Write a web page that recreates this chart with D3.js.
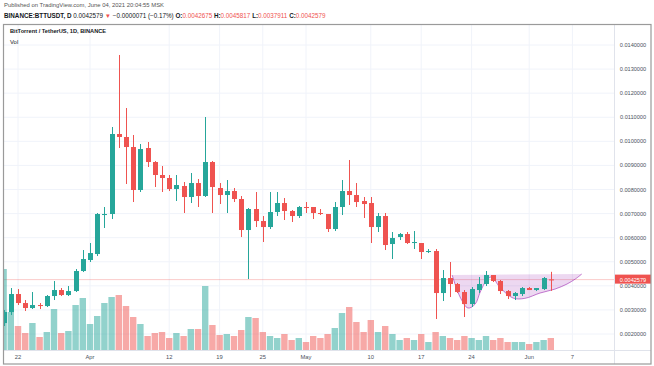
<!DOCTYPE html>
<html>
<head>
<meta charset="utf-8">
<script src="https://cdn.jsdelivr.net/npm/d3@7"></script>
<style>
  html, body { margin: 0; padding: 0; background: #fff; }
  svg { display: block; font-family: "Liberation Sans", Arial, sans-serif; }
</style>
</head>
<body>
<svg id="chart" width="654" height="366"></svg>
<script>
// daily candles, BTTUSDT, starting 2021-03-20
const startDay = '2021-03-20';
const open = [0.002455, 0.002912, 0.003660, 0.003286, 0.003078, 0.003203, 0.003161, 0.003577, 0.003826, 0.003618,
  0.003784, 0.004615, 0.005072, 0.005321, 0.006940, 0.006982, 0.010304, 0.010180, 0.009764, 0.007979,
  0.009723, 0.009141, 0.008602, 0.008477, 0.008020, 0.008145, 0.007688, 0.008269, 0.007730, 0.009141,
  0.008062, 0.007771, 0.007937, 0.007605, 0.006318, 0.007190, 0.006691, 0.006442, 0.007065, 0.007439,
  0.007107, 0.006899, 0.007273, 0.007273, 0.007024, 0.006982, 0.006359, 0.007273, 0.007937, 0.007771,
  0.007522, 0.007439, 0.006442, 0.006899, 0.005736, 0.006027, 0.006151, 0.005778, 0.005778, 0.005404,
  0.005445, 0.003701, 0.004324, 0.004075, 0.003743, 0.003244, 0.003826, 0.004075, 0.004449, 0.004200,
  0.003784, 0.003577, 0.003660, 0.003909, 0.003826, 0.003867, 0.0042675];
const high = [0.002995, 0.003909, 0.003867, 0.003411, 0.003743, 0.003286, 0.003618, 0.004200, 0.003909, 0.003992,
  0.004698, 0.005487, 0.005778, 0.007024, 0.007273, 0.010595, 0.013585, 0.011384, 0.010263, 0.009889,
  0.009972, 0.009180, 0.008975, 0.008602, 0.008602, 0.008311, 0.008685, 0.008435, 0.011010, 0.009183,
  0.008269, 0.008394, 0.008062, 0.007730, 0.007231, 0.007896, 0.006899, 0.007896, 0.007896, 0.007646,
  0.007148, 0.007314, 0.007480, 0.007273, 0.007190, 0.006982, 0.007480, 0.008394, 0.009225, 0.008269,
  0.007688, 0.007688, 0.007024, 0.007024, 0.006235, 0.006193, 0.006235, 0.006276, 0.005778, 0.005529,
  0.005529, 0.004656, 0.004989, 0.004117, 0.003826, 0.003950, 0.004366, 0.004615, 0.004449, 0.004241,
  0.003826, 0.003743, 0.003950, 0.003950, 0.003909, 0.004366, 0.0045817];
const low = [0.002331, 0.002788, 0.003203, 0.002954, 0.003037, 0.003037, 0.003120, 0.003411, 0.003577, 0.003577,
  0.003743, 0.004573, 0.004989, 0.005238, 0.006401, 0.006774, 0.009723, 0.008228, 0.007480, 0.007896,
  0.008934, 0.008103, 0.007896, 0.007937, 0.007522, 0.007024, 0.007439, 0.007273, 0.007688, 0.007024,
  0.007397, 0.007024, 0.007480, 0.006027, 0.004283, 0.006442, 0.005819, 0.006359, 0.006899, 0.006733,
  0.006650, 0.006816, 0.007024, 0.006774, 0.006940, 0.006235, 0.006276, 0.006940, 0.007356, 0.007273,
  0.006816, 0.005778, 0.006235, 0.005487, 0.005113, 0.005902, 0.005736, 0.005529, 0.005113, 0.005362,
  0.002622, 0.003369, 0.003535, 0.003701, 0.002705, 0.003120, 0.003701, 0.003992, 0.004158, 0.003660,
  0.003452, 0.003411, 0.003577, 0.003826, 0.003784, 0.003826, 0.0037911];
const close = [0.002912, 0.003660, 0.003286, 0.003078, 0.003203, 0.003161, 0.003577, 0.003826, 0.003618, 0.003784,
  0.004615, 0.005113, 0.005362, 0.006982, 0.006982, 0.010304, 0.010180, 0.009764, 0.007979, 0.009681,
  0.009141, 0.008602, 0.008477, 0.008020, 0.008186, 0.007688, 0.008269, 0.007730, 0.009141, 0.008103,
  0.007771, 0.007937, 0.007605, 0.006318, 0.007190, 0.006691, 0.006442, 0.007065, 0.007439, 0.007107,
  0.006899, 0.007273, 0.007231, 0.007024, 0.006982, 0.006359, 0.007273, 0.007937, 0.007771, 0.007480,
  0.007397, 0.006442, 0.006899, 0.005695, 0.005985, 0.006151, 0.005778, 0.005819, 0.005404, 0.005445,
  0.003701, 0.004324, 0.004075, 0.003743, 0.003244, 0.003867, 0.004075, 0.004449, 0.004200, 0.003784,
  0.003577, 0.003701, 0.003909, 0.003826, 0.003909, 0.004324, 0.0042579];
// volume (millions of BTT, approximate)
const volume = [81, 38, 24, 17, 27, 13, 18, 41, 17, 19,
  45, 52, 26, 34, 47, 53, 55, 44, 33, 26,
  14, 17, 18, 12, 17, 14, 21, 21, 64, 25,
  15, 16, 14, 20, 33, 32, 18, 14, 12, 16,
  10, 12, 8, 14, 12, 16, 22, 37, 43, 28,
  18, 30, 18, 24, 16, 10, 12, 10, 16, 8,
  18, 14, 12, 10, 14, 12, 10, 14, 10, 12,
  8, 8, 8, 6, 8, 10, 12];

const priceTicks = [0.002, 0.003, 0.004, 0.005, 0.006, 0.007, 0.008, 0.009, 0.010, 0.011, 0.012, 0.013, 0.014];
const timeTicks = ['2021-03-22', '2021-04-01', '2021-04-12', '2021-04-19', '2021-04-25', '2021-05-01',
  '2021-05-10', '2021-05-17', '2021-05-24', '2021-06-01', '2021-06-07'];
const timeLabels = ['22', 'Apr', '12', '19', '25', 'May', '10', '17', '24', 'Jun', '7'];

// cup drawing (day offset from start, price)
const cupDay = [62.3, 63.4, 64.5, 65.5, 66.2, 67.1, 67.8, 68.9, 70.75, 72.4, 74.5, 76.6, 78.25, 79.4, 80.3];
const cupPrice = [0.004448, 0.003535, 0.003078, 0.003244, 0.003743, 0.004241, 0.004365, 0.003950, 0.003493,
  0.003480, 0.003701, 0.003867, 0.004075, 0.004283, 0.004490];
const cupTop = 0.004448;

const lastPrice = 0.0042579;
const upColor = '#26a69a', downColor = '#ef5350';

const parse = d3.timeParse('%Y-%m-%d');
const day0 = parse(startDay);
const candles = open.map((o, i) => ({
  date: d3.timeDay.offset(day0, i), o, h: high[i], l: low[i], c: close[i], v: volume[i]
}));

const svg = d3.select('#chart');
const pL = 4, pR = 614, pT = 25, pB = 350;

const x = d3.scaleTime()
  .domain([parse('2021-03-22'), parse('2021-06-07')])
  .range([18, 572.4]);
const y = d3.scaleLinear().domain([0.002, 0.014]).range([334, 45]);
const yv = d3.scaleLinear().domain([0, 100]).range([pB, pB - 100]);
const dayW = x(d3.timeDay.offset(day0, 1)) - x(day0);

svg.append('defs').append('clipPath').attr('id', 'plot')
  .append('rect').attr('x', pL).attr('y', pT).attr('width', pR - pL).attr('height', pB - pT);

// header
svg.append('text').attr('x', 4).attr('y', 7).attr('font-size', 5.9).attr('fill', '#555')
  .text('Published on TradingView.com, June 04, 2021 20:04:55 MSK');
const h2 = svg.append('text').attr('x', 4).attr('y', 18).attr('font-size', 6.3).attr('fill', '#131722');
const parts = [
  ['BINANCE:BTTUSDT, D ', '#131722', 'bold'], ['0.0042579 ', '#131722', 'normal'], ['▼ ', downColor, 'normal'],
  ['−0.0000071 (−0.17%) ', '#131722', 'normal'],
  ['O:', '#131722', 'bold'], ['0.0042675 ', downColor, 'normal'],
  ['H:', '#131722', 'bold'], ['0.0045817 ', downColor, 'normal'],
  ['L:', '#131722', 'bold'], ['0.0037911 ', downColor, 'normal'],
  ['C:', '#131722', 'bold'], ['0.0042579', downColor, 'normal']
];
parts.forEach(p => h2.append('tspan').attr('fill', p[1]).attr('font-weight', p[2]).text(p[0]));

// grid
const grid = svg.append('g');
grid.selectAll('.hg').data(priceTicks).enter().append('line')
  .attr('x1', pL).attr('x2', pR).attr('y1', d => y(d)).attr('y2', d => y(d))
  .attr('stroke', '#f0f3fa').attr('stroke-width', 1);
grid.selectAll('.vg').data(timeTicks).enter().append('line')
  .attr('x1', d => x(parse(d))).attr('x2', d => x(parse(d))).attr('y1', pT).attr('y2', pB)
  .attr('stroke', '#f0f3fa').attr('stroke-width', 1);

const plot = svg.append('g').attr('clip-path', 'url(#plot)');

// last price line
plot.append('line').attr('x1', pL).attr('x2', pR).attr('y1', y(lastPrice)).attr('y2', y(lastPrice))
  .attr('stroke', downColor).attr('stroke-opacity', 0.3).attr('stroke-width', 1);

// volume
const bw = 5;
plot.selectAll('.vol').data(candles).enter().append('rect')
  .attr('x', d => x(d.date) - 3.2).attr('width', 6.4)
  .attr('y', d => yv(d.v)).attr('height', d => pB - yv(d.v))
  .attr('fill', d => d.c >= d.o ? upColor : downColor).attr('fill-opacity', 0.5);

// cup shape
const cupPts = cupDay.map((d, i) => [x(day0) + dayW * d, y(cupPrice[i])]);
const cupLine = d3.line().curve(d3.curveCatmullRom);
plot.append('path')
  .attr('d', cupLine(cupPts) + `L${cupPts[0][0]},${y(cupTop)}Z`)
  .attr('fill', '#9c27b0').attr('fill-opacity', 0.18).attr('stroke', 'none');
plot.append('path').attr('d', cupLine(cupPts))
  .attr('fill', 'none').attr('stroke', '#9c27b0').attr('stroke-opacity', 0.6).attr('stroke-width', 1);

// candles
const cg = plot.selectAll('.candle').data(candles).enter().append('g');
cg.append('line')
  .attr('x1', d => Math.round(x(d.date)) + 0.5).attr('x2', d => Math.round(x(d.date)) + 0.5)
  .attr('y1', d => y(d.h)).attr('y2', d => y(d.l))
  .attr('stroke', d => d.c >= d.o ? upColor : downColor).attr('stroke-width', 1);
cg.append('rect')
  .attr('x', d => Math.round(x(d.date)) + 0.5 - bw / 2).attr('width', bw)
  .attr('y', d => y(Math.max(d.o, d.c)))
  .attr('height', d => Math.max(1, Math.abs(y(d.o) - y(d.c))))
  .attr('fill', d => d.c >= d.o ? upColor : downColor);

// chart titles
svg.append('text').attr('x', 10).attr('y', 33).attr('font-size', 5.7).attr('font-weight', 'bold')
  .attr('fill', '#131722').text('BitTorrent / TetherUS, 1D, BINANCE');
svg.append('text').attr('x', 10).attr('y', 44).attr('font-size', 5.9).attr('fill', '#131722').text('Vol');

// price axis
svg.append('line').attr('x1', pR + 0.5).attr('x2', pR + 0.5).attr('y1', pT).attr('y2', 364)
  .attr('stroke', '#e0e3eb');
svg.selectAll('.pl').data(priceTicks).enter().append('text')
  .attr('x', 633).attr('y', d => y(d) + 2).attr('text-anchor', 'middle')
  .attr('font-size', 5.6).attr('fill', '#4c525e').text(d => d.toFixed(7));
svg.append('rect').attr('x', pR + 1).attr('y', y(lastPrice) - 5).attr('width', 36).attr('height', 9)
  .attr('fill', downColor);
svg.append('text').attr('x', 633).attr('y', y(lastPrice) + 2).attr('text-anchor', 'middle')
  .attr('font-size', 5.6).attr('fill', '#fff').text(lastPrice.toFixed(7));

// time axis
svg.append('line').attr('x1', pL).attr('x2', 651).attr('y1', pB + 0.5).attr('y2', pB + 0.5)
  .attr('stroke', '#e0e3eb');
svg.selectAll('.tl').data(timeTicks).enter().append('text')
  .attr('x', (d, i) => x(parse(d))).attr('y', 359).attr('text-anchor', 'middle')
  .attr('font-size', 5.8).attr('fill', '#4c525e').text((d, i) => timeLabels[i]);

// frame
svg.append('rect').attr('x', 3.5).attr('y', 24.5).attr('width', 647.5).attr('height', 339.5)
  .attr('fill', 'none').attr('stroke', '#9a9a9a').attr('stroke-width', 1.2);
</script>
</body>
</html>
